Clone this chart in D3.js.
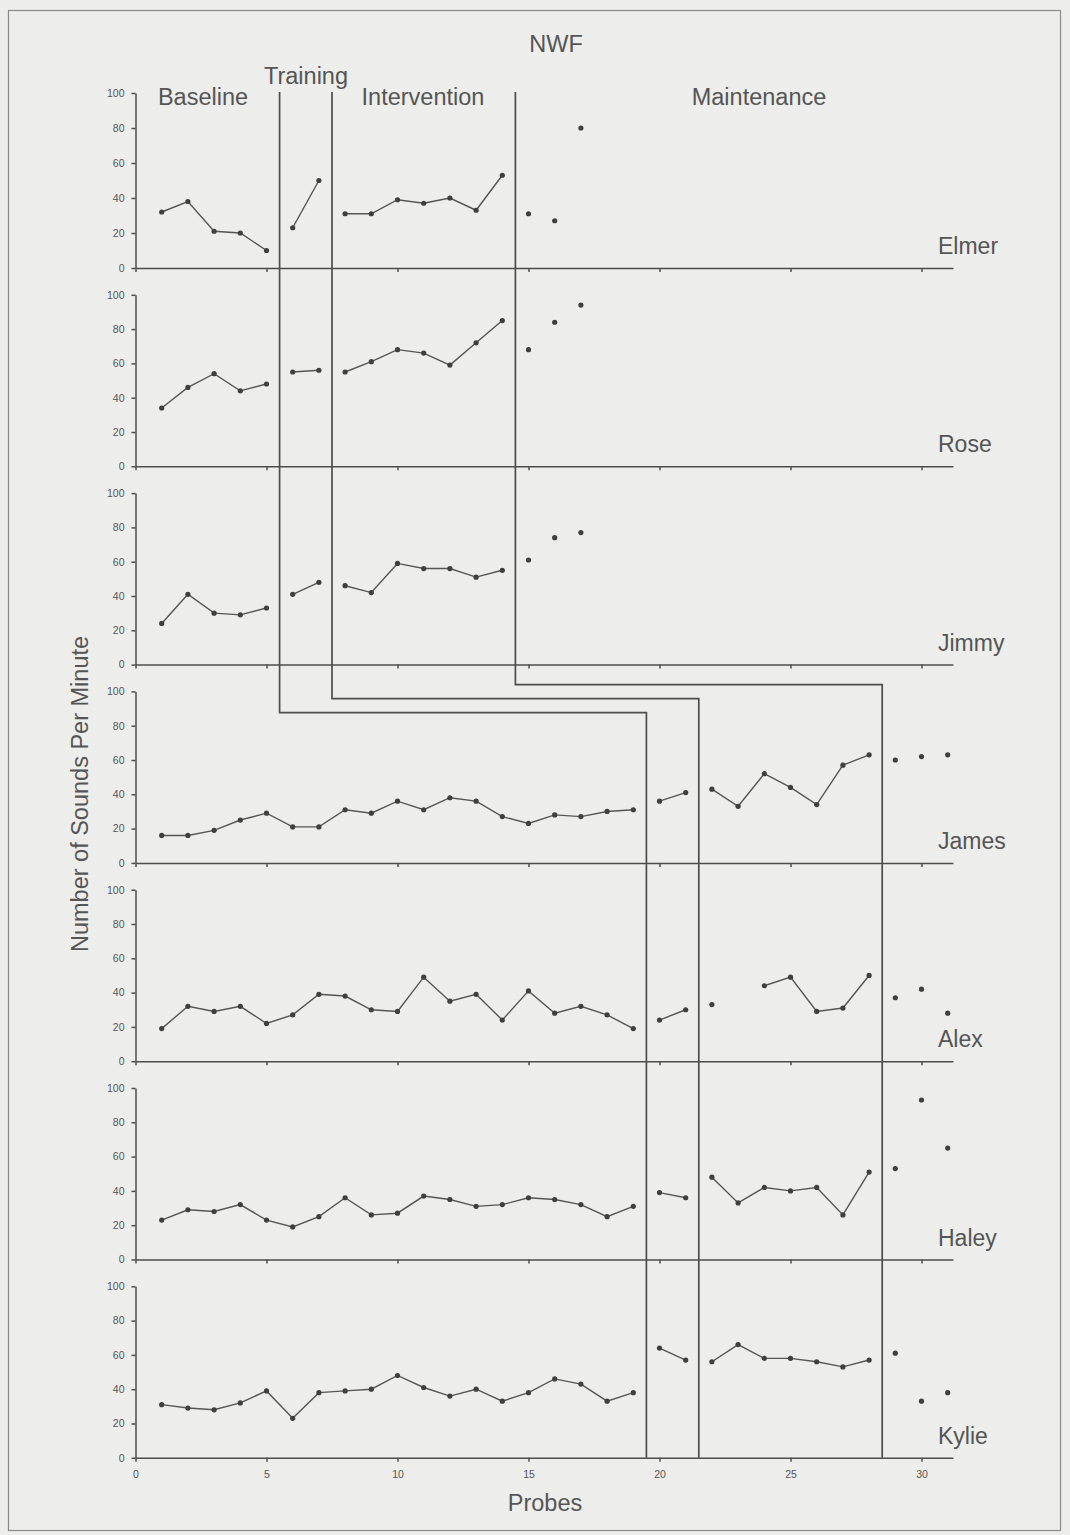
<!DOCTYPE html>
<html>
<head>
<meta charset="utf-8">
<script src="https://cdn.jsdelivr.net/npm/d3@7/dist/d3.min.js"></script>
<style>
  html, body { margin: 0; padding: 0; background: #ededeb; }
  svg { display: block; }
  text { font-family: "Liberation Sans", Arial, sans-serif; fill: #555; }
</style>
</head>
<body>
<svg id="chart" width="1070" height="1535"></svg>
<script>
// ---------- DATA ----------
const participants = ["Elmer", "Rose", "Jimmy", "James", "Alex", "Haley", "Kylie"];
const phaseNames = ["Baseline", "Training", "Intervention", "Maintenance"];
const yTicks = [0, 20, 40, 60, 80, 100];
const xTicks = [0, 5, 10, 15, 20, 25, 30];

// values per probe, starting at probe 1 (null = no probe)
const elmer = [32, 38, 21, 20, 10, 23, 50, 31, 31, 39, 37, 40, 33, 53, 31, 27, 80];
const rose  = [34, 46, 54, 44, 48, 55, 56, 55, 61, 68, 66, 59, 72, 85, 68, 84, 94];
const jimmy = [24, 41, 30, 29, 33, 41, 48, 46, 42, 59, 56, 56, 51, 55, 61, 74, 77];
const james = [16, 16, 19, 25, 29, 21, 21, 31, 29, 36, 31, 38, 36, 27, 23, 28, 27, 30, 31,
               36, 41, 43, 33, 52, 44, 34, 57, 63, 60, 62, 63];
const alex  = [19, 32, 29, 32, 22, 27, 39, 38, 30, 29, 49, 35, 39, 24, 41, 28, 32, 27, 19,
               24, 30, 33, null, 44, 49, 29, 31, 50, 37, 42, 28];
const haley = [23, 29, 28, 32, 23, 19, 25, 36, 26, 27, 37, 35, 31, 32, 36, 35, 32, 25, 31,
               39, 36, 48, 33, 42, 40, 42, 26, 51, 53, 93, 65];
const kylie = [31, 29, 28, 32, 39, 23, 38, 39, 40, 48, 41, 36, 40, 33, 38, 46, 43, 33, 38,
               64, 57, 56, 66, 58, 58, 56, 53, 57, 61, 33, 38];
const seriesValues = [elmer, rose, jimmy, james, alex, haley, kylie];

// last probe of baseline, training, intervention (maintenance follows)
const phaseEndsUpper = [5, 7, 14];   // Elmer, Rose, Jimmy
const phaseEndsLower = [19, 21, 28]; // James, Alex, Haley, Kylie

// ---------- LAYOUT ----------
const svg = d3.select("#chart");
const W = 1070, H = 1535;
svg.append("rect").attr("x", 0).attr("y", 0).attr("width", W).attr("height", H).attr("fill", "#ededeb");
svg.append("rect").attr("x", 8.5).attr("y", 10.5).attr("width", 1052).attr("height", 1520)
   .attr("fill", "none").attr("stroke", "#8a8a8a").attr("stroke-width", 1.2);

const ink = "#4d4d4d";
const x0 = 135.5, unit = 26.2;
const x = d3.scaleLinear().domain([0, 31.2]).range([x0, x0 + 31.2 * unit]);

const firstBottom = 268, step = 198.3;
const panels = participants.map((name, i) => {
  const bottom = firstBottom + i * step;
  const h = i === 0 ? 175 : 171.5;
  const y = d3.scaleLinear().domain([0, 100]).range([bottom, bottom - h]);
  return { name, i, bottom, y, values: seriesValues[i], ends: i < 3 ? phaseEndsUpper : phaseEndsLower };
});

const line = d3.line().defined(d => d.v != null).x(d => x(d.p)).y(d => d.yy);

panels.forEach(P => {
  const g = svg.append("g");
  // y axis
  const ya = g.append("g").attr("transform", `translate(${x(0)},0)`)
    .call(d3.axisLeft(P.y).tickValues(yTicks).tickSize(4).tickPadding(7).tickSizeOuter(0));
  ya.selectAll("path,line").attr("stroke", ink).attr("stroke-width", 1.5);
  ya.selectAll("text").style("font-size", "10.5px").style("fill", "#555")
    .style("font-family", "'Liberation Sans', Arial, sans-serif");
  // x axis
  const xa = g.append("g").attr("transform", `translate(0,${P.bottom})`)
    .call(d3.axisBottom(x).tickValues(xTicks).tickSize(4).tickPadding(9).tickSizeOuter(0)
      .tickFormat(P.i === panels.length - 1 ? d3.format("d") : () => ""));
  xa.selectAll("path,line").attr("stroke", ink).attr("stroke-width", 1.5);
  xa.selectAll("text").style("font-size", "10.5px").style("fill", "#555")
    .style("font-family", "'Liberation Sans', Arial, sans-serif");

  // data
  const pts = P.values.map((v, k) => ({ p: k + 1, v, yy: v == null ? 0 : P.y(v) }));
  const bounds = [0, ...P.ends];
  for (let s = 0; s < 3; s++) {
    const seg = pts.filter(d => d.p > bounds[s] && d.p <= bounds[s + 1]);
    g.append("path").attr("d", line(seg)).attr("fill", "none")
      .attr("stroke", "#555").attr("stroke-width", 1.4);
  }
  g.selectAll("circle.pt").data(pts.filter(d => d.v != null)).join("circle")
    .attr("class", "pt").attr("cx", d => x(d.p)).attr("cy", d => d.yy).attr("r", 2.6)
    .attr("fill", "#3f3f3f");

  // participant name
  g.append("text").attr("x", 938).attr("y", P.bottom - 14)
    .style("font-size", "23px").text(P.name);
});

// ---------- PHASE CHANGE LINES (stepped) ----------
const topY = panels[0].y(100) - 1;
const lastBottom = panels[panels.length - 1].bottom;
const jimmyBottom = panels[2].bottom;
const stepYs = [jimmyBottom + 48, jimmyBottom + 34, jimmyBottom + 20];
for (let k = 0; k < 3; k++) {
  const xu = x(phaseEndsUpper[k] + 0.5), xl = x(phaseEndsLower[k] + 0.5);
  const path = d3.path();
  path.moveTo(xu, topY);
  path.lineTo(xu, stepYs[k]);
  path.lineTo(xl, stepYs[k]);
  path.lineTo(xl, lastBottom);
  svg.append("path").attr("d", path.toString()).attr("fill", "none")
    .attr("stroke", ink).attr("stroke-width", 1.7);
}

// ---------- PHASE LABELS ----------
const phaseLabelPos = [
  { cx: 203, y: 105 },
  { cx: 306, y: 84 },
  { cx: 423, y: 105 },
  { cx: 759, y: 105 }
];
phaseNames.forEach((n, k) => {
  svg.append("text").attr("x", phaseLabelPos[k].cx).attr("y", phaseLabelPos[k].y)
    .attr("text-anchor", "middle").style("font-size", "23.5px").text(n);
});
svg.append("text").attr("x", 556).attr("y", 52).attr("text-anchor", "middle")
  .style("font-size", "23.5px").text("NWF");

// ---------- AXIS TITLES ----------
svg.append("text").attr("transform", "translate(88,794) rotate(-90)")
  .attr("text-anchor", "middle").style("font-size", "23.5px").text("Number of Sounds Per Minute");
svg.append("text").attr("x", 545).attr("y", 1511).attr("text-anchor", "middle")
  .style("font-size", "23.5px").text("Probes");
</script>
</body>
</html>
